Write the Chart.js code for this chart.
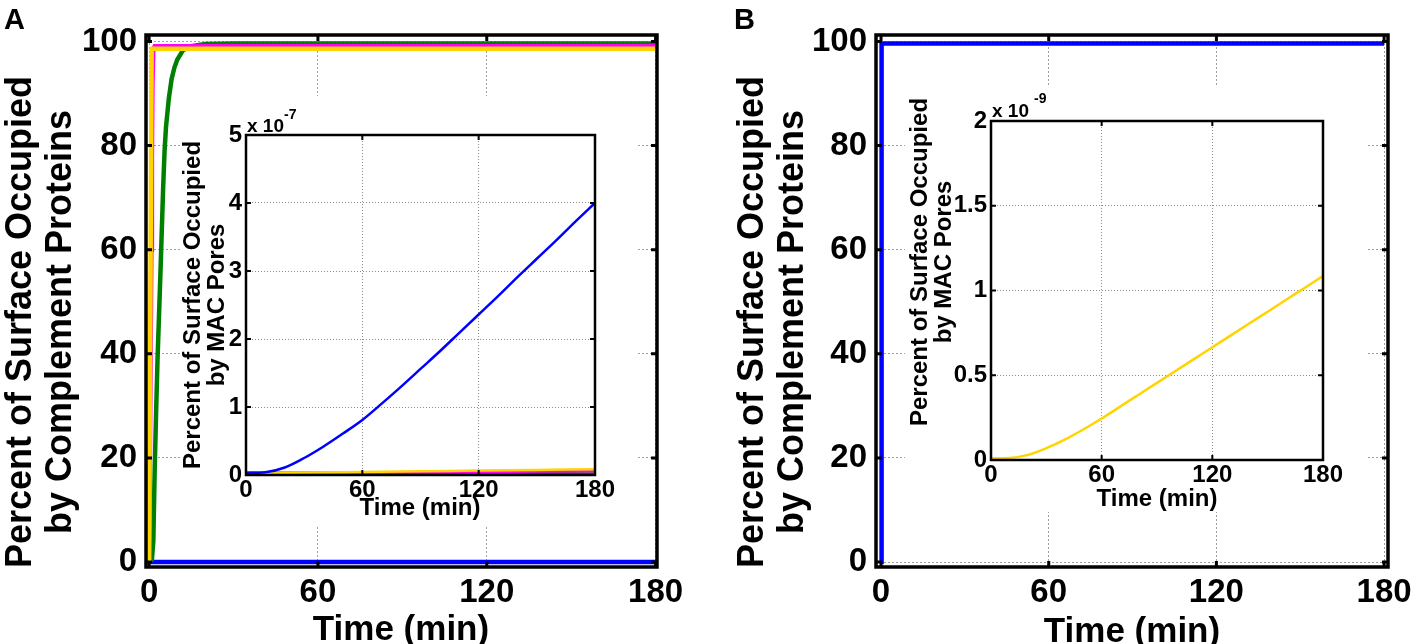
<!DOCTYPE html>
<html><head><meta charset="utf-8">
<script src="https://cdn.jsdelivr.net/npm/chart.js@4.4.1/dist/chart.umd.min.js"></script>
<style>
html,body{margin:0;padding:0;background:#fff;overflow:hidden;width:1417px;height:644px;position:relative;}
canvas{position:absolute;}
</style></head><body>
<canvas id="mainA"></canvas>
<canvas id="mainB"></canvas>
<canvas id="insetA"></canvas>
<canvas id="insetB"></canvas>
<script>
// ---------- tick values ----------
const timeTicks = [0, 60, 120, 180];
const mainYTicks = [0, 20, 40, 60, 80, 100];
const insetAYTicks = [0, 1, 2, 3, 4, 5];          // x 10^-7
const insetBYTicks = [0, 0.5, 1, 1.5, 2];         // x 10^-9

// ---------- Panel A, main (percent of surface) ----------
const blueA_t = [0, 180];
const blueA_v = [0, 0];
const greenA_t = [0, 1, 1.5, 2, 2.5, 3, 4, 5, 5.5, 6, 7, 8, 9, 10, 12, 15, 20, 30, 180];
const greenA_v = [0, 0.5, 4, 18, 29, 39, 55, 72, 79, 83.5, 89, 92.8, 95, 96.5, 98.3, 99.1, 99.5, 99.6, 99.6];
const magentaA_t = [0, 0.8, 1, 1.2, 1.5, 2, 180];
const magentaA_v = [0, 60, 78, 92, 98.5, 99.1, 99.1];
const yellowA_t = [0, 0.9, 180];
const yellowA_v = [0, 98.6, 98.6];

// ---------- Panel A, inset (MAC pores, x 10^-7) ----------
const insetA_t = [0, 10, 20, 30, 40, 50, 60, 70, 80, 90, 100, 110, 120, 130, 140, 150, 160, 170, 180];
const blueInA_v = [0.03, 0.04, 0.11, 0.25, 0.42, 0.61, 0.81, 1.05, 1.30, 1.56, 1.82, 2.09, 2.36, 2.63, 2.91, 3.18, 3.45, 3.73, 4.00];
const insetSmall_t = [0, 30, 60, 90, 120, 150, 180];
const yellowInA_v = [0.03, 0.035, 0.045, 0.055, 0.065, 0.075, 0.085];
const magentaInA_v = [0.03, 0.032, 0.036, 0.04, 0.045, 0.05, 0.055];
const greenInA_v = [0.035, 0.033, 0.031, 0.029, 0.027, 0.025, 0.023];

// ---------- Panel B, main ----------
const blueB_t = [0, 0.2, 180];
const blueB_v = [0, 99.6, 99.6];

// ---------- Panel B, inset (MAC pores, x 10^-9) ----------
const insetB_t = [0, 10, 20, 30, 40, 50, 60, 70, 80, 90, 100, 110, 120, 130, 140, 150, 160, 170, 180];
const yellowInB_v = [0.01, 0.012, 0.03, 0.07, 0.12, 0.18, 0.245, 0.315, 0.385, 0.455, 0.525, 0.595, 0.665, 0.735, 0.805, 0.875, 0.945, 1.015, 1.085];

// ---------- styling / helpers ----------
const FONT = "'Liberation Sans', Arial, Helvetica, sans-serif";
const BLUE = '#0000FF', GREEN = '#008000', MAGENTA = '#FF00FF', YELLOW = '#FFD400';
function pts(t, v) { return t.map((x, i) => ({ x: x, y: v[i] })); }

const framePlugin = {
  id: 'frame',
  afterDatasetsDraw(chart, args, o) {
    const ctx = chart.ctx, a = chart.chartArea, xs = chart.scales.x, ys = chart.scales.y;
    ctx.save();
    ctx.strokeStyle = '#000';
    ctx.setLineDash([]);
    ctx.lineWidth = o.tickWidth;
    ctx.beginPath();
    xs.ticks.forEach(t => {
      const p = xs.getPixelForValue(t.value);
      ctx.moveTo(p, a.bottom); ctx.lineTo(p, a.bottom - o.len);
      ctx.moveTo(p, a.top); ctx.lineTo(p, a.top + o.len);
    });
    ys.ticks.forEach(t => {
      const p = ys.getPixelForValue(t.value);
      ctx.moveTo(a.left, p); ctx.lineTo(a.left + o.len, p);
      ctx.moveTo(a.right, p); ctx.lineTo(a.right - o.len, p);
    });
    ctx.stroke();
    ctx.lineWidth = o.width;
    ctx.strokeRect(a.left, a.top, a.right - a.left, a.bottom - a.top);
    ctx.restore();
  }
};

function bgPlugin(rect, ox, oy) {
  return {
    id: 'whitebox',
    beforeDraw(chart) {
      if (!rect) return;
      const ctx = chart.ctx;
      ctx.save();
      ctx.fillStyle = '#fff';
      ctx.fillRect(rect[0] - ox, rect[1] - oy, rect[2] - rect[0], rect[3] - rect[1]);
      ctx.restore();
    }
  };
}

function textPlugin(items, ox, oy) {
  return {
    id: 'texts',
    afterDraw(chart) {
      const ctx = chart.ctx;
      items.forEach(it => {
        ctx.save();
        ctx.font = 'bold ' + it.size + 'px ' + FONT;
        ctx.fillStyle = '#000';
        ctx.textAlign = it.align || 'center';
        ctx.textBaseline = it.base || 'alphabetic';
        ctx.translate(it.x - ox, it.y - oy);
        if (it.rot) ctx.rotate(-Math.PI / 2);
        ctx.fillText(it.text, 0, 0);
        ctx.restore();
      });
    }
  };
}

function build(id, c) {
  const cv = document.getElementById(id);
  cv.width = c.w; cv.height = c.h;
  cv.style.left = c.left + 'px'; cv.style.top = c.top + 'px';
  cv.style.width = c.w + 'px'; cv.style.height = c.h + 'px';
  const tickFont = { family: FONT, weight: 'bold', size: c.tickSize, lineHeight: 1 };
  return new Chart(cv, {
    type: 'scatter',
    data: {
      datasets: c.datasets.map(d => ({
        data: pts(d.t, d.v),
        borderColor: d.color, backgroundColor: d.color,
        borderWidth: d.width, showLine: true, fill: false,
        pointRadius: 0, pointHoverRadius: 0,
        tension: 0, cubicInterpolationMode: d.smooth ? 'monotone' : 'default',
        borderCapStyle: 'butt', borderJoinStyle: 'miter'
      }))
    },
    options: {
      responsive: false, maintainAspectRatio: false, animation: false,
      devicePixelRatio: 1, events: [],
      layout: { padding: { left: 0, top: c.padTop, right: c.padRight, bottom: 0 } },
      plugins: {
        legend: { display: false }, tooltip: { enabled: false },
        frame: { width: c.frameW, tickWidth: c.tickW, len: c.tickLen }
      },
      scales: {
        x: {
          type: 'linear', min: c.xMin, max: c.xMax,
          afterFit: s => { s.height = c.xH; },
          afterBuildTicks: s => { s.ticks = timeTicks.map(v => ({ value: v })); },
          ticks: { font: tickFont, color: '#000', padding: c.xPad, maxRotation: 0, autoSkip: false, callback: v => String(v) },
          grid: { color: c.gridColor, lineWidth: 1, drawTicks: false },
          border: { display: false, dash: c.dash }
        },
        y: {
          type: 'linear', min: c.yMin, max: c.yMax,
          afterFit: s => { s.width = c.yW; },
          afterBuildTicks: s => { s.ticks = c.yTicks.map(v => ({ value: v })); },
          ticks: { font: tickFont, color: '#000', padding: c.yPad, autoSkip: false, callback: v => String(v) },
          grid: { color: c.gridColor, lineWidth: 1, drawTicks: false },
          border: { display: false, dash: c.dash }
        }
      }
    },
    plugins: [framePlugin, bgPlugin(c.bg, c.left, c.top), textPlugin(c.texts, c.left, c.top)]
  });
}

// ---------- Panel A main ----------
build('mainA', {
  left: 0, top: 0, w: 720, h: 644, yW: 146, xH: 77, padTop: 35, padRight: 63,
  xMin: -1.1, xMax: 180.5, yMin: -0.96, yMax: 101.25, yTicks: mainYTicks,
  tickSize: 33, xPad: 9, yPad: 9, gridColor: '#a0a0a0', dash: [2, 2],
  frameW: 3.5, tickW: 3, tickLen: 6,
  datasets: [
    { t: yellowA_t, v: yellowA_v, color: YELLOW, width: 4.5 },
    { t: magentaA_t, v: magentaA_v, color: MAGENTA, width: 4.5 },
    { t: greenA_t, v: greenA_v, color: GREEN, width: 4.5 },
    { t: blueA_t, v: blueA_v, color: BLUE, width: 4.5 }
  ],
  texts: [
    { text: 'A', x: 4, y: 29, size: 29, align: 'left' },
    { text: 'Percent of Surface Occupied', x: 31, y: 322, size: 36, rot: true },
    { text: 'by Complement Proteins', x: 71, y: 322, size: 36, rot: true },
    { text: 'Time (min)', x: 401, y: 630, size: 35, base: 'middle' }
  ]
});

// ---------- Panel B main ----------
build('mainB', {
  left: 730, top: 0, w: 720, h: 644, yW: 146, xH: 77, padTop: 35, padRight: 62,
  xMin: -1.8, xMax: 181.4, yMin: -0.96, yMax: 101.25, yTicks: mainYTicks,
  tickSize: 33, xPad: 9, yPad: 9, gridColor: '#a0a0a0', dash: [2, 2],
  frameW: 3.5, tickW: 3, tickLen: 6,
  datasets: [
    { t: blueB_t, v: blueB_v, color: BLUE, width: 4.5 }
  ],
  texts: [
    { text: 'B', x: 734, y: 29, size: 29, align: 'left' },
    { text: 'Percent of Surface Occupied', x: 763, y: 322, size: 36, rot: true },
    { text: 'by Complement Proteins', x: 803, y: 322, size: 36, rot: true },
    { text: 'Time (min)', x: 1132, y: 632, size: 35, base: 'middle' }
  ]
});

// ---------- Panel A inset ----------
build('insetA', {
  left: 170, top: 78, w: 470, h: 462, yW: 76, xH: 65, padTop: 57, padRight: 45,
  xMin: 0, xMax: 180, yMin: 0, yMax: 5, yTicks: insetAYTicks,
  tickSize: 24, xPad: 3, yPad: 4, gridColor: '#8c8c8c', dash: [1, 2],
  frameW: 2.5, tickW: 2, tickLen: 5,
  bg: [180, 96, 637, 527],
  datasets: [
    { t: insetA_t, v: blueInA_v, color: BLUE, width: 2.5, smooth: true },
    { t: insetSmall_t, v: yellowInA_v, color: YELLOW, width: 2.5, smooth: true },
    { t: insetSmall_t, v: magentaInA_v, color: MAGENTA, width: 2.5, smooth: true },
    { t: insetSmall_t, v: greenInA_v, color: GREEN, width: 2.5, smooth: true }
  ],
  texts: [
    { text: 'Percent of Surface Occupied', x: 200, y: 305, size: 24, rot: true },
    { text: 'by MAC Pores', x: 224, y: 305, size: 24, rot: true },
    { text: 'Time (min)', x: 420, y: 508, size: 24, base: 'middle' },
    { text: 'x 10', x: 247, y: 132, size: 19, align: 'left' },
    { text: '-7', x: 284, y: 119, size: 14, align: 'left' }
  ]
});

// ---------- Panel B inset ----------
build('insetB', {
  left: 895, top: 78, w: 500, h: 462, yW: 96, xH: 80, padTop: 43, padRight: 72,
  xMin: 0, xMax: 180, yMin: 0, yMax: 2, yTicks: insetBYTicks,
  tickSize: 24, xPad: 3, yPad: 4, gridColor: '#8c8c8c', dash: [1, 2],
  frameW: 2.5, tickW: 2, tickLen: 5,
  bg: [905, 87, 1366, 512],
  datasets: [
    { t: insetB_t, v: yellowInB_v, color: YELLOW, width: 2.5, smooth: true }
  ],
  texts: [
    { text: 'Percent of Surface Occupied', x: 927, y: 262, size: 24, rot: true },
    { text: 'by MAC Pores', x: 951, y: 262, size: 24, rot: true },
    { text: 'Time (min)', x: 1157, y: 499, size: 24, base: 'middle' },
    { text: 'x 10', x: 992, y: 117, size: 19, align: 'left' },
    { text: '-9', x: 1034, y: 103, size: 14, align: 'left' }
  ]
});
</script>
</body></html>
